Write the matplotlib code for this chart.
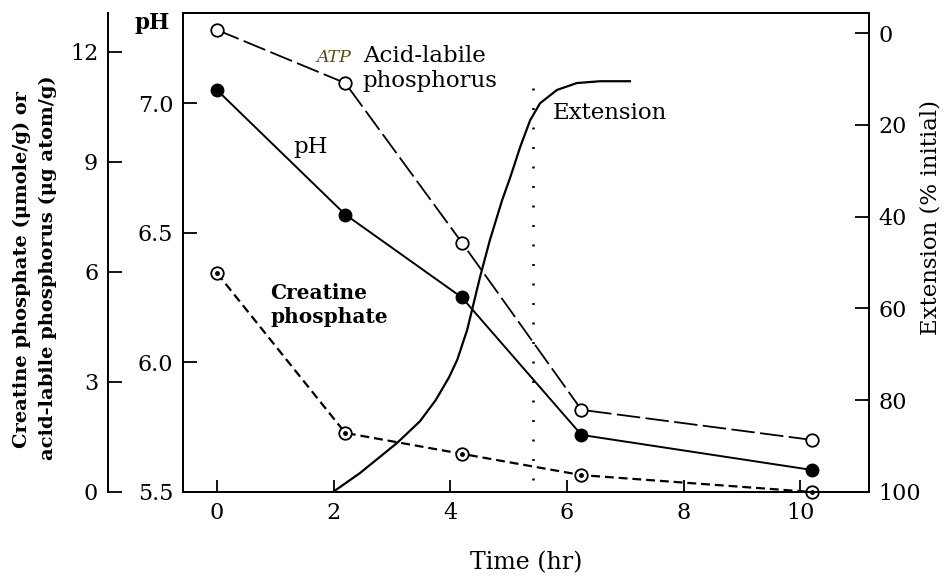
import numpy as np
import matplotlib
matplotlib.use("Agg")
import matplotlib.pyplot as plt

# values
time = [0, 2.2, 4.2, 6.25, 10.2]
acid_labile_p = [12.6, 11.15, 6.8, 2.24, 1.42]   # ug atom/g
creatine_p = [5.97, 1.61, 1.04, 0.46, 0.0]      # umole/g
ph = [7.05, 6.57, 6.25, 5.72, 5.585]

ext_time = [1.99, 2.45, 3.09, 3.48, 3.75, 3.98, 4.12, 4.29, 4.51, 4.68,
            4.89, 5.03, 5.20, 5.37, 5.54, 5.83, 6.17, 6.57, 7.08]
extension = [100, 95.9, 89.3, 84.6, 80.0, 75.0, 71.2, 64.7, 53.2, 45.1,
             36.4, 31.4, 24.8, 19.0, 15.3, 12.4, 10.9, 10.5, 10.5]
ext_marker_time = 5.42

conc_ticks = [0, 3, 6, 9, 12]
ph_ticks = [5.5, 6.0, 6.5, 7.0]
ext_ticks = [0, 20, 40, 60, 80, 100]
time_ticks = [0, 2, 4, 6, 8, 10]

plt.rcParams['font.family'] = ['DejaVu Serif']
fs = 16.5
tfs = 16

fig = plt.figure(figsize=(9.46, 5.79), dpi=100)
ax = fig.add_axes([0.1934, 0.1503, 0.7252, 0.8272])
ax_ph = ax.twinx()
ax_ext = ax.twinx()

# x axis
ax.set_xlim(-0.583, 11.18)
ax.set_xticks(time_ticks)

# outer concentration axis
ax.set_ylim(0, 13.06)
ax.set_yticks(conc_ticks)
ax.spines['left'].set_position(('outward', 54))
ax.spines['right'].set_visible(False)
ax.tick_params(axis='both', direction='in', length=10, width=1.3,
               labelsize=tfs, pad=7)
ax.tick_params(axis='x', length=9)

# inner pH axis
ax_ph.set_ylim(5.5, 7.347)
ax_ph.yaxis.set_ticks_position('left')
ax_ph.yaxis.set_label_position('left')
ax_ph.spines['left'].set_visible(True)
ax_ph.spines['right'].set_visible(False)
ax_ph.set_yticks(ph_ticks)
ax_ph.set_yticklabels(['%.1f' % v for v in ph_ticks])
ax_ph.tick_params(axis='y', direction='in', length=10, width=1.3,
                  labelsize=tfs, pad=7)

# right extension axis (inverted)
ax_ext.set_ylim(100, -4.36)
ax_ext.set_yticks(ext_ticks)
ax_ext.tick_params(axis='y', direction='in', length=10, width=1.3,
                   labelsize=tfs, pad=7)

for a in (ax, ax_ph, ax_ext):
    for s in a.spines.values():
        s.set_linewidth(1.4)

# series
ax.plot(time, acid_labile_p, color='black', lw=1.3, dashes=(13, 3),
        marker='o', ms=9, mfc='white', mec='black', mew=1.3, zorder=3)
ax.plot(time, creatine_p, color='black', lw=1.6, dashes=(4, 2.2),
        marker='o', ms=9, mfc='white', mec='black', mew=1.3, zorder=3,
        clip_on=False)
ax.plot(time, creatine_p, ls='none', marker='o', ms=2.5, color='black',
        zorder=4, clip_on=False)
ax_ph.plot(time, ph, color='black', lw=1.4, marker='o', ms=9,
           mfc='black', mec='black', zorder=3)
ax_ext.plot(ext_time, extension, color='black', lw=1.6)
ax_ext.vlines(ext_marker_time, 12, 100, colors='black', lw=1.8,
              linestyles=(0, (0.8, 7)))

# annotations
ax.text(2.50, 11.54, 'Acid-labile\nphosphorus', fontsize=fs, va='center',
        ha='left', linespacing=1.15)
ax.text(2.0, 11.84, 'ATP', fontsize=12.5, style='italic', color='#5c4a10',
        ha='center', va='center')
ax.text(1.6, 9.41, 'pH', fontsize=fs, ha='center', va='center')
ax.text(5.76, 10.34, 'Extension', fontsize=fs, ha='left', va='center')
ax.text(0.91, 5.10, 'Creatine\nphosphate', fontsize=14.5, fontweight='bold',
        ha='left', va='center', linespacing=1.2)

fig.text(152 / 946, 1 - 23 / 579, 'pH', fontsize=15.5, fontweight='bold',
         ha='center', va='center')
fig.text(22 / 946, 1 - 270 / 579, 'Creatine phosphate (\u03bcmole/g) or',
         fontsize=14, fontweight='bold', rotation=90, ha='center', va='center')
fig.text(48 / 946, 1 - 268 / 579, 'acid-labile phosphorus (\u03bcg atom/g)',
         fontsize=14, fontweight='bold', rotation=90, ha='center', va='center')
fig.text(930 / 946, 1 - 217 / 579, 'Extension (% initial)', fontsize=fs,
         rotation=90, ha='center', va='center')
fig.text(526 / 946, 1 - 563 / 579, 'Time (hr)', fontsize=17,
         ha='center', va='center')

fig.savefig('out.png', dpi=100)
